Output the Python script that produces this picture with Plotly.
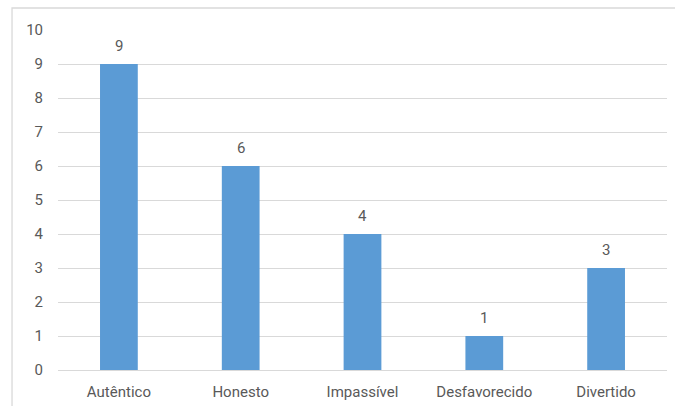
import plotly.graph_objects as go

categories = ["Autêntico", "Honesto", "Impassível", "Desfavorecido", "Divertido"]
values = [9, 6, 4, 1, 3]
y_ticks = list(range(0, 11))

font_family = "Roboto, sans-serif"
text_color = "#595959"
grid_color = "#d9d9d9"
bar_color = "#5b9bd5"

fig = go.Figure()
fig.add_trace(go.Bar(x=categories, y=values, marker=dict(color=bar_color, line=dict(width=0)),
                     hoverinfo="skip"))

for c, v in zip(categories, values):
    fig.add_annotation(x=c, y=v, text=str(v), showarrow=False, yanchor="bottom", yshift=7,
                       font=dict(family=font_family, size=15, color=text_color))

# outer chart frame (partially cropped in the reference)
fig.add_shape(type="rect", xref="paper", yref="paper",
              x0=-0.0755, x1=1.2, y0=-0.3, y1=1.0647,
              line=dict(color=grid_color, width=1.3), layer="below")

fig.update_layout(
    width=675, height=406,
    margin=dict(l=58, r=8, t=30, b=36),
    paper_bgcolor="white", plot_bgcolor="white",
    bargap=0.69,
    showlegend=False,
    font=dict(family=font_family, size=15, color=text_color),
    xaxis=dict(showgrid=False, showline=True, linecolor=grid_color, linewidth=1.3,
               automargin=False,
               ticks="", ticklabelstandoff=8, tickfont=dict(size=15, color=text_color)),
    yaxis=dict(range=[0, 10], tickvals=y_ticks, showgrid=True, gridcolor=grid_color, gridwidth=1.3,
               automargin=False,
               zeroline=False, showline=False, ticks="", ticklabelstandoff=14,
               tickfont=dict(size=15, color=text_color)),
)

fig.write_html("out.html")
